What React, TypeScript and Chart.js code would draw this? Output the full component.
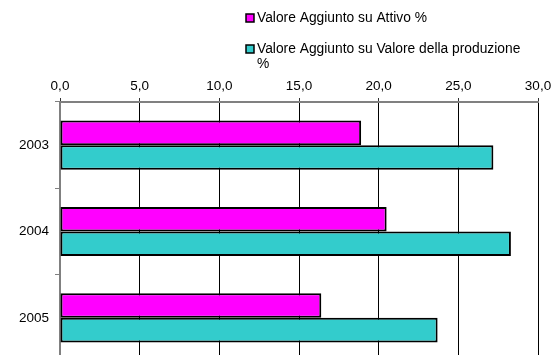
import React, { useEffect, useRef } from "react";
import { Chart, registerables } from "chart.js";

Chart.register(...registerables);

const categories = ["2003", "2004", "2005"];
const seriesNames = ["Valore Aggiunto su Attivo %", "Valore Aggiunto su Valore della produzione %"];
const legendLines = [["Valore Aggiunto su Attivo %"], ["Valore Aggiunto su Valore della produzione", "%"]];
const attivo = [18.9, 20.5, 16.4];
const produzione = [27.2, 28.3, 23.7];
const colors = ["#FF00FF", "#33CCCC"];
const xMin = 0;
const xMax = 30;
const xStep = 5;

const FONT = '"Liberation Sans", Arial, sans-serif';

const legendPlugin = {
  id: "customLegend",
  afterDraw(chart: any) {
    const ctx = chart.ctx;
    ctx.save();
    ctx.font = `13.8px ${FONT}`;
    ctx.textBaseline = "middle";
    ctx.textAlign = "left";
    const ys = [18, 49];
    legendLines.forEach((lines, i) => {
      const y = ys[i];
      ctx.fillStyle = colors[i];
      ctx.fillRect(246, y - 4, 8, 8);
      ctx.strokeStyle = "#000";
      ctx.lineWidth = 1.5;
      ctx.strokeRect(246, y - 4, 8, 8);
      ctx.fillStyle = "#000";
      lines.forEach((t, j) => {
        ctx.fillText(t, 257, y + j * 15.5);
      });
    });
    ctx.restore();
  },
};

export default function App() {
  const ref = useRef<HTMLCanvasElement>(null);
  useEffect(() => {
    if (!ref.current) return;
    const chart = new Chart(ref.current, {
      type: "bar",
      data: {
        labels: categories,
        datasets: [
          {
            label: seriesNames[0],
            data: attivo,
            backgroundColor: colors[0],
            borderColor: "#000",
            borderWidth: 2,
            borderSkipped: false,
          },
          {
            label: seriesNames[1],
            data: produzione,
            backgroundColor: colors[1],
            borderColor: "#000",
            borderWidth: 2,
            borderSkipped: false,
          },
        ],
      },
      options: {
        indexAxis: "y",
        responsive: false,
        animation: false,
        devicePixelRatio: 1,
        categoryPercentage: 0.57,
        barPercentage: 1,
        layout: { padding: { left: 0, right: 14, top: 0, bottom: 1 } },
        plugins: {
          legend: { display: false },
          tooltip: { enabled: false },
        },
        scales: {
          x: {
            position: "top",
            min: xMin,
            max: xMax,
            afterFit: (s: any) => {
              s.height = 102;
              s.paddingLeft = 0;
              s.paddingRight = 0;
            },
            ticks: {
              stepSize: xStep,
              color: "#000",
              padding: 4,
              font: { family: FONT, size: 13.5 },
              callback: (v: any) => Number(v).toFixed(1).replace(".", ","),
            },
            grid: {
              color: "#000",
              lineWidth: 1,
              tickLength: 4,
              tickColor: "#333",
            },
            border: { color: "#808080", width: 2 },
          },
          y: {
            afterFit: (s: any) => {
              s.width = 60;
              s.paddingTop = 0;
              s.paddingBottom = 0;
            },
            ticks: {
              color: "#000",
              padding: 6,
              font: { family: FONT, size: 13.5 },
            },
            grid: {
              offset: true,
              drawOnChartArea: false,
              tickLength: 5,
              color: "#808080",
              lineWidth: 1,
            },
            border: { color: "#808080", width: 2 },
          },
        },
      },
      plugins: [legendPlugin],
    });
    return () => chart.destroy();
  }, []);
  return (
    <div style={{ position: "fixed", left: 0, top: 0, width: 552, height: 362, background: "#fff" }}>
      <canvas ref={ref} width={552} height={362} style={{ display: "block" }} />
    </div>
  );
}
